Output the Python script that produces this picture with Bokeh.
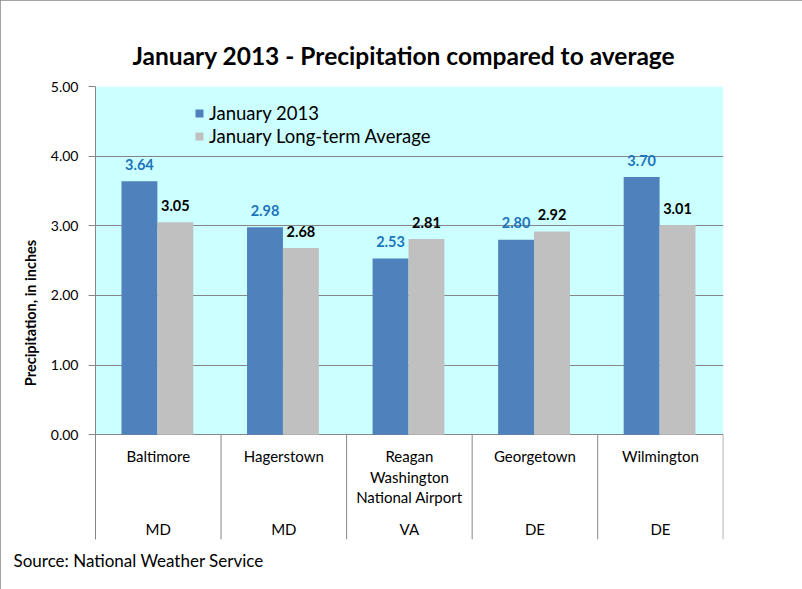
import numpy as np
from bokeh.plotting import figure
from bokeh.models import ColumnDataSource, FixedTicker, Range1d, Title
from bokeh.core.properties import value
from bokeh.embed import file_html
from bokeh.resources import INLINE

# ---- data ----
cities = ["Baltimore", "Hagerstown", "Reagan\nWashington\nNational Airport", "Georgetown", "Wilmington"]
states = ["MD", "MD", "VA", "DE", "DE"]
jan_2013 = [3.64, 2.98, 2.53, 2.80, 3.70]
jan_avg = [3.05, 2.68, 2.81, 2.92, 3.01]
y_ticks = [0, 1, 2, 3, 4, 5]
series_names = ["January 2013", "January Long-term Average"]
title_text = "January 2013 - Precipitation compared to average"
source_text = "Source: National Weather Service"
y_label = "Precipitation, in inches"

# ---- styles ----
FONT = value("Lato")
BLUE = "#4F81BD"
GRAY = "#C0C0C0"
CYAN = "#CCFFFF"
AXIS = "#868686"
LABEL_BLUE = "#1C74BC"

n = len(cities)
idx = np.arange(n)
bar_w = 0.286
x_blue = idx + 0.35
x_gray = idx + 0.636
Y_MIN = -1.503

W, H = 802, 589
p = figure(width=W, height=H, output_backend="svg", toolbar_location=None,
           x_axis_type=None, x_range=Range1d(0, 5.002), y_range=Range1d(Y_MIN, 5),
           min_border_left=95, min_border_right=79, min_border_top=86, min_border_bottom=50)
p.outline_line_color = None
p.background_fill_color = "white"
p.border_fill_color = "white"
p.styles = {"outline": "1px solid #868686", "outline-offset": "-1px"}

# title
p.title.text = title_text
p.title.text_font = "Lato"
p.title.text_font_style = "bold"
p.title.text_font_size = "24.5px"
p.title.text_color = "black"
p.title.align = "left"
p.title.offset = 37
p.title.standoff = 34

# spacer + source note below the plot
p.add_layout(Title(text=" ", text_font_size="5px", standoff=0), "below")
p.add_layout(Title(text=source_text, align="left", offset=-82, standoff=0,
                   text_font="Lato", text_font_style="normal", text_font_size="17px",
                   text_color="black"), "below")

# plot-area background
p.quad(left=[0], right=[n], bottom=[0], top=[y_ticks[-1]], fill_color=CYAN,
       line_color=None, level="image")

# bars
p.vbar(x=x_blue, top=jan_2013, width=bar_w, fill_color=BLUE, line_color=None,
       legend_label=series_names[0])
p.vbar(x=x_gray, top=jan_avg, width=bar_w, fill_color=GRAY, line_color=None,
       legend_label=series_names[1])

# data labels
p.text(x=x_blue, y=jan_2013, text=[f"{v:.2f}" for v in jan_2013], y_offset=-17,
       text_align="center", text_baseline="alphabetic", text_font=FONT,
       text_font_style="bold", text_font_size="14.5px", text_color=LABEL_BLUE)
p.text(x=x_gray, y=jan_avg, text=[f"{v:.2f}" for v in jan_avg], y_offset=-17,
       text_align="center", text_baseline="alphabetic", text_font=FONT,
       text_font_style="bold", text_font_size="14.5px", text_color="black")

# category separators
sep_x = idx[1:].tolist() + [n]
p.segment(x0=sep_x, y0=[0] * n, x1=sep_x, y1=[Y_MIN] * n, line_color=AXIS, line_width=1)

# category labels (multi-line split)
lx, lt, lo = [], [], []
for i, c in enumerate(cities):
    for k, line in enumerate(c.split("\n")):
        lx.append(i + 0.5)
        lt.append(line)
        lo.append(21.1 + k * 20.7)
for i, s in enumerate(states):
    lx.append(i + 0.5)
    lt.append(s)
    lo.append(94.4)
src = ColumnDataSource(dict(x=lx, y=[0] * len(lx), text=lt, yoff=lo))
p.text(x="x", y="y", text="text", y_offset="yoff", source=src, text_align="center",
       text_baseline="alphabetic", text_font=FONT, text_font_size="15px", text_color="black")

# y axis
p.yaxis.ticker = FixedTicker(ticks=y_ticks)
p.yaxis.major_label_overrides = {t: f"{t:.2f}" for t in y_ticks}
p.yaxis.axis_line_color = AXIS
p.yaxis.major_tick_line_color = AXIS
p.yaxis.major_tick_out = 7
p.yaxis.major_tick_in = 0
p.yaxis.minor_tick_line_color = None
p.yaxis.major_label_text_font = "Lato"
p.yaxis.major_label_text_font_size = "14px"
p.yaxis.major_label_text_color = "black"
p.yaxis.major_label_standoff = 10
p.yaxis.axis_label = y_label
p.yaxis.axis_label_text_font = "Lato"
p.yaxis.axis_label_text_font_size = "14.5px"
p.yaxis.axis_label_text_font_style = "bold"
p.yaxis.axis_label_text_color = "black"
p.yaxis.axis_label_standoff = 9

p.ygrid.ticker = FixedTicker(ticks=y_ticks)
p.ygrid.grid_line_color = AXIS

# legend
lg = p.legend[0]
lg.location = (99, 392)
lg.padding = 0
lg.margin = 0
lg.spacing = 0
lg.glyph_width = 10
lg.glyph_height = 10
lg.label_height = 23
lg.label_standoff = 5
lg.label_text_font = "Lato"
lg.label_text_font_size = "18.5px"
lg.label_text_color = "black"
lg.background_fill_alpha = 0
lg.border_line_color = None

open("out.html", "w").write(file_html(p, INLINE))
